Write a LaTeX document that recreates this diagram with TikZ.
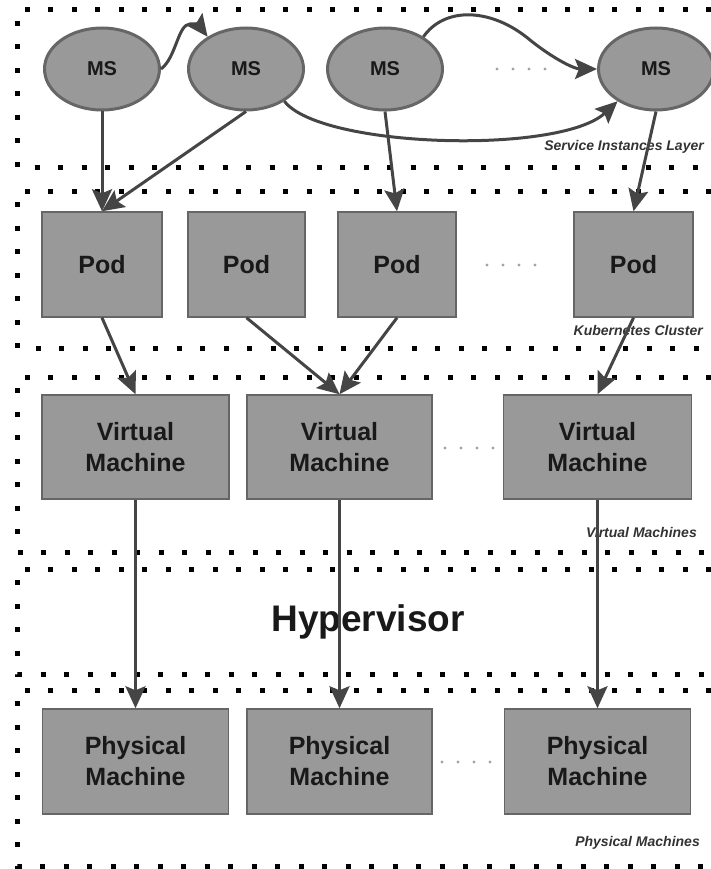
\documentclass[tikz,border=0pt]{standalone}
\usepackage{fontspec}
\setmainfont{Liberation Sans}
\usetikzlibrary{positioning, shapes.geometric, arrows.meta}

\definecolor{boxgray}{HTML}{999999}
\definecolor{edgegray}{HTML}{666666}
\definecolor{linkgray}{HTML}{454545}
\definecolor{tagcolor}{HTML}{333333}

\begin{document}
\begin{tikzpicture}[x=1pt, y=-1pt,
    ms/.style={ellipse, draw=edgegray, line width=3pt, fill=boxgray, minimum width=115pt, minimum height=82pt, inner sep=0pt, font=\fontsize{20}{20}\selectfont\bfseries, text=black!90},
    box/.style={rectangle, draw=edgegray, line width=1.5pt, fill=boxgray, minimum height=105pt, inner sep=0pt, align=center, font=\fontsize{25}{31}\selectfont\bfseries, text=black!90},
    link/.style={draw=linkgray, line width=3pt, -{Stealth[length=22pt, width=20pt, inset=4pt]}},
    layer/.style={line width=5pt, dash pattern=on 5pt off 18.5pt, black},
    tag/.style={anchor=east, inner sep=0pt, text=tagcolor, font=\fontsize{14}{14}\selectfont\bfseries\itshape},
    gap/.style={fill=boxgray!90}]
    \useasboundingbox (0,0) rectangle (711,869);
    % layers
    \foreach \ytop/\ybot in {10/168, 191/348, 377/552, 569/674, 690/866}
        \draw[layer] (711,\ytop) -| (17,\ybot) -- (711,\ybot);
    \node[tag] (svc) at (704,147) {Service Instances Layer};
    \node[tag] (kube) at (703,330) {Kubernetes Cluster};
    \node[tag] (virt) at (697,532) {Virtual Machines};
    \node[tag] (phys) at (700,843) {Physical Machines};
    \node[font=\fontsize{37}{37}\selectfont\bfseries, text=black!90] (hyp) at (368,622) {Hypervisor};
    % service instances
    \node[ms] (ms1) at (102,69) {MS};
    \node[ms] (ms2) at (246,69) {MS};
    \node[ms] (ms3) at (385,69) {MS};
    \node[ms] (ms4) at (656,69) {MS};
    % pods
    \node[box, minimum width=120pt] (pod1) at (102,264.5) {Pod};
    \node[box, minimum width=117pt] (pod2) at (246.5,264.5) {Pod};
    \node[box, minimum width=118pt] (pod3) at (397,264.5) {Pod};
    \node[box, minimum width=119pt] (pod4) at (633.5,264.5) {Pod};
    % virtual machines
    \node[box, minimum width=187pt, minimum height=104pt] (vm1) at (135.5,447) {Virtual\\Machine};
    \node[box, minimum width=185pt, minimum height=104pt] (vm2) at (339.5,447) {Virtual\\Machine};
    \node[box, minimum width=188pt, minimum height=104pt] (vm3) at (597.5,447) {Virtual\\Machine};
    % physical machines
    \node[box, minimum width=186pt] (pm1) at (135.5,761.5) {Physical\\Machine};
    \node[box, minimum width=185pt] (pm2) at (339.5,761.5) {Physical\\Machine};
    \node[box, minimum width=186pt] (pm3) at (597.5,761.5) {Physical\\Machine};
    % gaps
    \foreach \x/\y in {497/69, 487/265, 445/448, 442/762}
        \foreach \i in {0,1,2,3}
            \fill[gap] (\x+16*\i,\y) circle (1.7pt);
    % links between instances
    \draw[link] (ms1.east) .. controls (176,58) and (178,24) .. (190,24) -- (198,24) -- (ms2.140);
    \draw[link] (ms3.40) .. controls (445,6) and (492,8) .. (530,40) .. controls (555,60) and (575,69) .. (ms4.west);
    \draw[link] (ms2.-40) .. controls (320,148) and (560,155) .. (ms4.-140);
    % links down the stack
    \draw[link] (ms1.south) -- (pod1.north);
    \draw[link] (ms2.south) -- (pod1.north);
    \draw[link] (ms3.south) -- (pod3.north);
    \draw[link] (ms4.south) -- (pod4.north);
    \draw[link] (pod1.south) -- (vm1.north);
    \draw[link] (pod2.south) -- (vm2.north);
    \draw[link] (pod3.south) -- (vm2.north);
    \draw[link] (pod4.south) -- (vm3.north);
    \draw[link] (vm1.south) -- (pm1.north);
    \draw[link] (vm2.south) -- (pm2.north);
    \draw[link] (vm3.south) -- (pm3.north);
\end{tikzpicture}
\end{document}
